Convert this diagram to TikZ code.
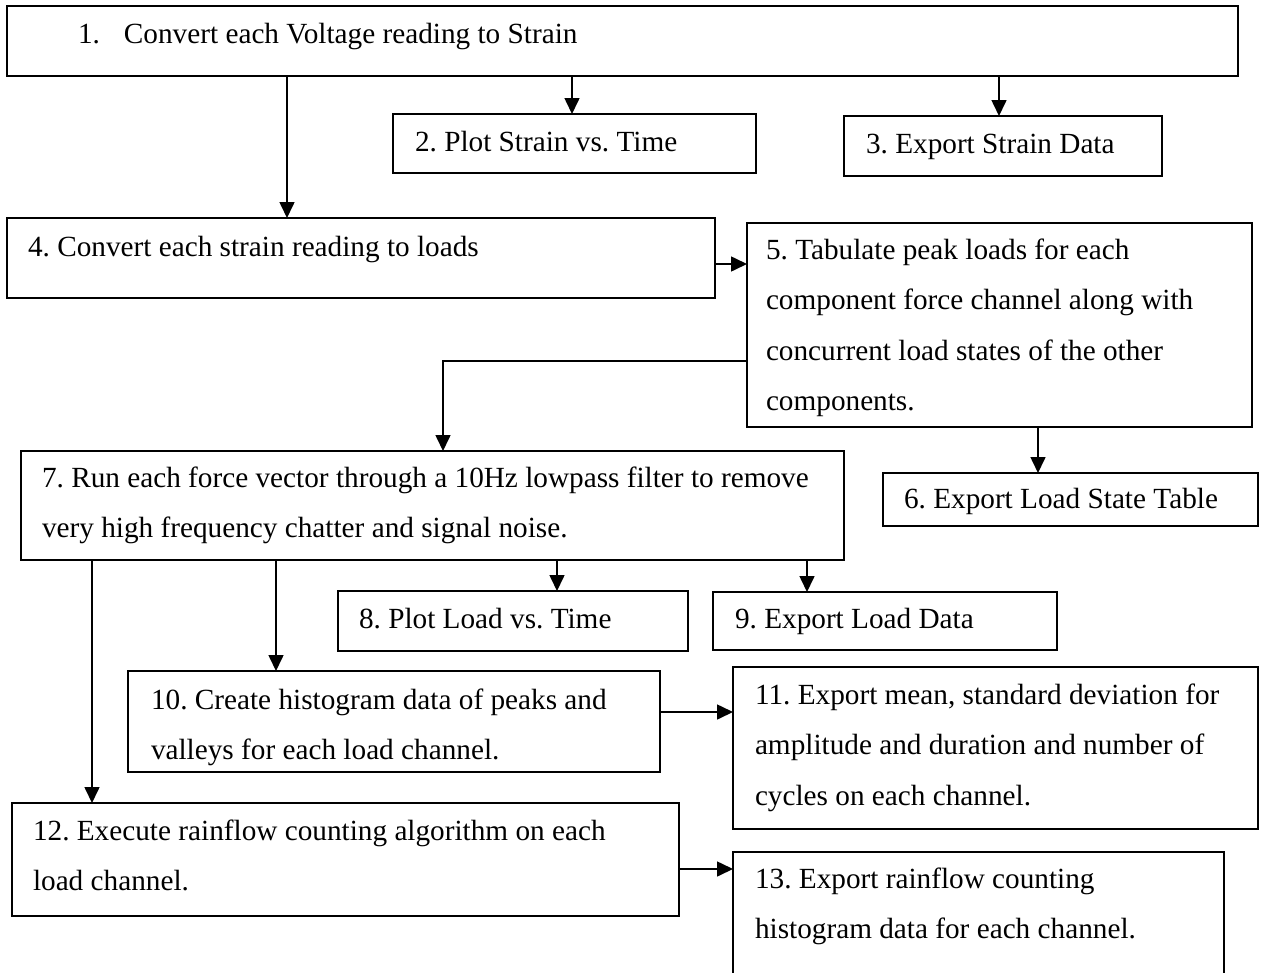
\documentclass[tikz,border=0pt]{standalone}
\usepackage{fontspec}
\setmainfont{Liberation Serif}
\usetikzlibrary{arrows.meta}
\tikzset{
  bx/.style={draw, rectangle, line width=1.8pt, anchor=north west, inner sep=0pt, outer sep=0pt},
  txt/.style={anchor=base west, inner sep=0pt, outer sep=0pt, font=\fontsize{29.25}{50.5}\selectfont\frenchspacing},
  arr/.style={line width=1.6pt, -{Triangle[width=15pt,length=16pt]}},
}
\begin{document}
\begin{tikzpicture}[x=1pt,y=-1pt]
\clip (0,0) rectangle (1261,972);
\fill[white] (0,0) rectangle (1261,972);
% boxes
\node[bx, minimum width=1231pt, minimum height=70pt] (b1) at (7,6) {};
\node[bx, minimum width=363pt, minimum height=59pt] (b2) at (393,114) {};
\node[bx, minimum width=318pt, minimum height=60pt] (b3) at (844,116) {};
\node[bx, minimum width=708pt, minimum height=80pt] (b4) at (7,218) {};
\node[bx, minimum width=505pt, minimum height=204pt] (b5) at (747,223) {};
\node[bx, minimum width=375pt, minimum height=53pt] (b6) at (883,473) {};
\node[bx, minimum width=823pt, minimum height=109pt] (b7) at (21,451) {};
\node[bx, minimum width=350pt, minimum height=60pt] (b8) at (338,591) {};
\node[bx, minimum width=344pt, minimum height=58pt] (b9) at (713,592) {};
\node[bx, minimum width=532pt, minimum height=101pt] (b10) at (128,671) {};
\node[bx, minimum width=525pt, minimum height=162pt] (b11) at (733,667) {};
\node[bx, minimum width=667pt, minimum height=113pt] (b12) at (12,803) {};
\node[bx, minimum width=491pt, minimum height=140pt] (b13) at (733,852) {};
% texts
\node[txt] (t1) at (78,43) {\makebox[46pt][l]{1.}Convert each Voltage reading to Strain};
\node[txt] (t2) at (415,151) {2. Plot Strain vs. Time};
\node[txt] (t3) at (866,153) {3. Export Strain Data};
\node[txt] (t4) at (28,256) {4. Convert each strain reading to loads};
\node[txt] (t5) at (766,259) {\vtop{\hbox{5. Tabulate peak loads for each}\hbox{component force channel along with}\hbox{concurrent load states of the other}\hbox{components.}}};
\node[txt] (t6) at (904,508) {6. Export Load State Table};
\node[txt] (t7) at (42,487) {\vtop{\hbox{7. Run each force vector through a 10Hz lowpass filter to remove}\hbox{very high frequency chatter and signal noise.}}};
\node[txt] (t8) at (359,628) {8. Plot Load vs. Time};
\node[txt] (t9) at (735,628) {9. Export Load Data};
\node[txt] (t10) at (151,709) {\vtop{\hbox{10. Create histogram data of peaks and}\hbox{valleys for each load channel.}}};
\node[txt] (t11) at (755,704) {\vtop{\hbox{11. Export mean, standard deviation for}\hbox{amplitude and duration and number of}\hbox{cycles on each channel.}}};
\node[txt] (t12) at (33,840) {\vtop{\hbox{12. Execute rainflow counting algorithm on each}\hbox{load channel.}}};
\node[txt] (t13) at (755,888) {\vtop{\hbox{13. Export rainflow counting}\hbox{histogram data for each channel.}}};
% connectors
\draw[arr] ([xshift=280pt]b1.south west) -- ([xshift=280pt]b4.north west);
\draw[arr] ([xshift=565pt]b1.south west) -- ([xshift=179pt]b2.north west);
\draw[arr] ([xshift=992pt]b1.south west) -- ([xshift=155pt]b3.north west);
\draw[arr] ([yshift=-46pt]b4.north east) -- ([yshift=-41pt]b5.north west);
\draw[arr] ([yshift=-138pt]b5.north west) -| ([xshift=422pt]b7.north west);
\draw[arr] ([xshift=291pt]b5.south west) -- ([xshift=155pt]b6.north west);
\draw[arr] ([xshift=536pt]b7.south west) -- ([xshift=219pt]b8.north west);
\draw[arr] ([xshift=786pt]b7.south west) -- ([xshift=94pt]b9.north west);
\draw[arr] ([xshift=255pt]b7.south west) -- ([xshift=148pt]b10.north west);
\draw[arr] ([xshift=71pt]b7.south west) -- ([xshift=80pt]b12.north west);
\draw[arr] ([yshift=-41pt]b10.north east) -- ([yshift=-45pt]b11.north west);
\draw[arr] ([yshift=-66pt]b12.north east) -- ([yshift=-17pt]b13.north west);
\end{tikzpicture}
\end{document}
